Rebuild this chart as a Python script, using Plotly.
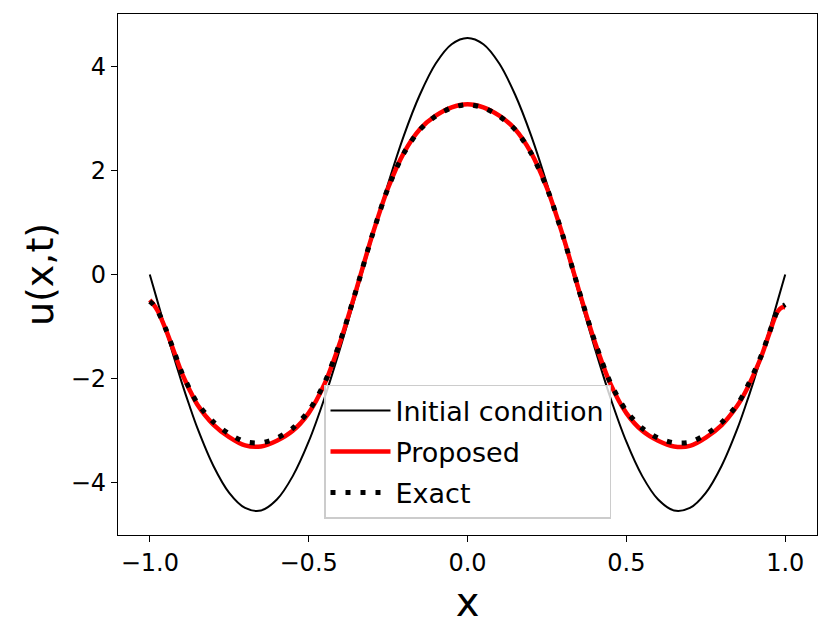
# Initial condition vs proposed vs exact solution
import plotly.graph_objects as go

# x locations the curves were read at
x_vals = [-1.0, -0.99, -0.975, -0.95, -0.925, -0.9, -0.875, -0.85, -0.8, -0.75,
          -0.7, -0.65, -0.6, -0.55, -0.5, -0.45, -0.4, -0.35, -0.3,
          -0.25, -0.2, -0.15, -0.1, -0.05, 0.0, 0.05, 0.1, 0.15, 0.2,
          0.25, 0.3, 0.35, 0.4, 0.45, 0.5, 0.55, 0.6, 0.65,
          0.7, 0.75, 0.8, 0.85, 0.875, 0.9, 0.925, 0.95, 0.975, 0.99, 1.0]

u_initial = [0.0, -0.21, -0.53, -1.06, -1.57, -2.06, -2.52, -2.95, -3.67, -4.19,
             -4.48, -4.53, -4.32, -3.87, -3.21, -2.37, -1.40, -0.36, 0.71,
             1.74, 2.67, 3.45, 4.05, 4.42, 4.54, 4.42, 4.05, 3.45, 2.67,
             1.74, 0.71, -0.36, -1.40, -2.37, -3.21, -3.87, -4.32, -4.53,
             -4.48, -4.19, -3.67, -2.95, -2.52, -2.06, -1.57, -1.06, -0.53, -0.21, 0.0]

u_proposed = [-0.49, -0.56, -0.70, -1.05, -1.46, -1.88, -2.21, -2.50, -2.88, -3.12,
              -3.28, -3.30, -3.19, -3.00, -2.66, -2.10, -1.28, -0.29, 0.75,
              1.66, 2.34, 2.79, 3.05, 3.21, 3.27, 3.21, 3.05, 2.79, 2.34,
              1.66, 0.75, -0.29, -1.28, -2.10, -2.66, -3.00, -3.19, -3.30,
              -3.29, -3.13, -2.89, -2.51, -2.25, -1.93, -1.57, -1.13, -0.72, -0.63, -0.63]

u_exact = [-0.52, -0.57, -0.70, -1.04, -1.45, -1.87, -2.19, -2.47, -2.83, -3.06,
           -3.21, -3.23, -3.14, -2.95, -2.62, -2.08, -1.27, -0.29, 0.75,
           1.66, 2.33, 2.78, 3.04, 3.20, 3.26, 3.20, 3.04, 2.78, 2.33,
           1.66, 0.75, -0.29, -1.27, -2.08, -2.62, -2.95, -3.14, -3.23,
           -3.22, -3.07, -2.84, -2.49, -2.22, -1.90, -1.55, -1.12, -0.71, -0.62, -0.58]

font_name = "DejaVu Sans"

fig = go.Figure([
    go.Scatter(x=x_vals, y=u_initial, mode="lines", name="Initial condition",
               legendgroup="a", line=dict(color="black", width=2, shape="spline", smoothing=1.0)),
    go.Scatter(x=x_vals, y=u_proposed, mode="lines", name="Proposed",
               legendgroup="b", line=dict(color="red", width=4.5, shape="spline", smoothing=0.8)),
    go.Scatter(x=x_vals, y=u_exact, mode="lines", name="Exact",
               legendgroup="c", line=dict(color="black", width=5, dash="5px,10px",
                                          shape="spline", smoothing=0.8)),
])

axis_style = dict(
    showline=True, linecolor="black", linewidth=1.2, mirror=True,
    ticks="outside", ticklen=6, tickwidth=1.2, tickcolor="black",
    showgrid=False, zeroline=False, automargin=False,
    tickfont=dict(family=font_name, size=24, color="black"),
)

# page body adds an 8px offset, so the figure is 8px smaller than the window
fig.update_layout(
    width=823, height=631,
    margin=dict(l=110, r=14, t=6, b=104),
    paper_bgcolor="white", plot_bgcolor="white",
    font=dict(family=font_name, color="black"),
    xaxis=dict(range=[-1.1, 1.1], tickvals=[-1.0, -0.5, 0.0, 0.5, 1.0], tickformat=".1f",
               title=dict(text="x", font=dict(size=40), standoff=12), **axis_style),
    yaxis=dict(range=[-5, 5], tickvals=[-4, -2, 0, 2, 4],
               title=dict(text="u(x,t)", font=dict(size=38), standoff=5), **axis_style),
    legend=dict(x=0.5, y=0.031, xanchor="center", yanchor="bottom",
                bgcolor="rgba(255,255,255,0.8)", bordercolor="#cccccc", borderwidth=1.5,
                font=dict(size=27), tracegroupgap=3, itemwidth=60),
    showlegend=True,
)

fig.write_html("out.html")
